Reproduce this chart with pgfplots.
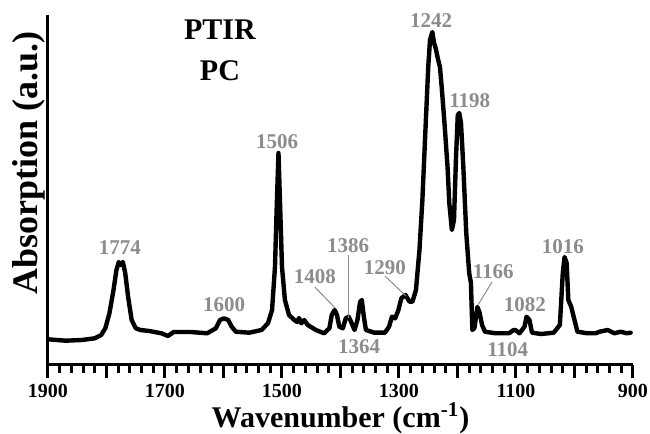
\documentclass[border=0pt]{standalone}
\usepackage{pgfplots}
\pgfplotsset{compat=1.18}
\usepackage{fontspec}
\setmainfont{Liberation Serif}
\definecolor{lblgray}{RGB}{140,140,140}
\tikzset{lbl/.style={font=\fontsize{10.5}{11}\selectfont\bfseries, text=lblgray, inner sep=0pt}}

\begin{document}
\begin{tikzpicture}
\useasboundingbox (0,0) rectangle (325pt,217pt);
\begin{axis}[
    at={(24pt,34.5pt)}, anchor=south west,
    scale only axis,
    width=292.5pt, height=175pt,
    x dir=reverse,
    xmin=900, xmax=1900,
    ymin=0, ymax=350,
    axis x line=bottom, axis y line=left,
    axis line style={-, line width=1.5pt},
    ytick=\empty,
    xtick={900,1100,...,1900},
    minor x tick num=9,
    extra x ticks={1000,1200,...,1800},
    extra x tick labels={},
    tick align=outside,
    major tick length=6.5pt,
    minor tick length=4pt,
    every tick/.style={line width=1.5pt, black},
    /pgf/number format/assume math mode=true,
    /pgf/number format/1000 sep={},
    xticklabel style={font=\fontsize{10}{10}\selectfont\bfseries, inner sep=1pt, yshift=-2pt},
    xlabel={Wavenumber (cm\textsuperscript{-1})},
    ylabel={Absorption (a.u.)},
    xlabel style={font=\fontsize{15}{15}\selectfont\bfseries,
        at={(axis description cs:0.5,-0.152)}, anchor=center},
    ylabel style={font=\fontsize{18}{19}\selectfont\bfseries,
        at={(axis description cs:-0.0325,0.576)}, anchor=center},
    clip=false,
]
\addplot[black, line width=2.2pt, line join=round, line cap=round] coordinates {
(1900,25.7) (1885,25) (1870,24.3) (1842,25) (1820,26.7) (1809,30) (1802,36.7)
(1795,51.7) (1788,75) (1783,95) (1779,103) (1776,100) (1772,103) (1768,92)
(1763,68) (1757,45) (1750,36.7) (1742,35) (1727,34) (1706,31.7) (1695,29)
(1685,33) (1656,33) (1628,31.7) (1613,36.7) (1606,45) (1599,46.7) (1592,45)
(1586,38.3) (1579,33.3) (1556,32.3) (1535,35) (1524,41.7) (1517,55) (1512,98)
(1509,158) (1506,212) (1503.5,165) (1500,98) (1495,65) (1488,50) (1479,45)
(1474,43) (1471,47) (1467,41.7) (1462,45) (1456,40) (1442,35) (1428,31.7)
(1419,36.7) (1415,50) (1410,55) (1406,50) (1402,38.3) (1396,36.7) (1391,46.7)
(1386,48.3) (1382,43.3) (1376,35) (1371,45) (1366.5,63) (1363.6,65) (1360,48)
(1356.5,35) (1342,32.3) (1324,32.3) (1317,38.3) (1312,48.3) (1306.5,46.7)
(1301,55) (1296,66.7) (1289,70) (1282,63.3) (1277,63.3) (1271,75) (1265,115)
(1260,165) (1255,232) (1250,298) (1247,325) (1243,333) (1240,322) (1237,316)
(1233,305) (1230,298) (1227,278) (1222,240) (1217,198) (1214,162) (1209.6,135)
(1206,145) (1202.5,208) (1199.5,250) (1197,252) (1194,242) (1190,198)
(1185,132) (1180,92) (1177,82) (1174.6,35) (1171,37) (1166,58) (1162.5,53)
(1158,40) (1153,33.3) (1135,31.7) (1112,31.7) (1104,35) (1101,35) (1094,31.7)
(1085.4,38.3) (1082,48.3) (1077,45) (1072.6,32.3) (1057,31) (1035.5,32.3)
(1025,40) (1020,92) (1017,108) (1013.4,102) (1010.5,65) (1005.5,58) (1000,45)
(995,33.3) (978,31.7) (964,31.7) (957,33.3) (943,35) (932,31.7) (921,33.3)
(911,31.7) (904,32.3)
};

% peak labels
\node[lbl] at (axis cs:1245,344) {1242};
\node[lbl] at (axis cs:1179,264) {1198};
\node[lbl] at (axis cs:1508.5,223) {1506};
\node[lbl] at (axis cs:1777,117) {1774};
\node[lbl] at (axis cs:1599,60) {1600};
\node[lbl] at (axis cs:1444,88) {1408};
\node[lbl] at (axis cs:1387,119) {1386};
\node[lbl] at (axis cs:1324,97) {1290};
\node[lbl] at (axis cs:1139,93) {1166};
\node[lbl] at (axis cs:1085,60) {1082};
\node[lbl] at (axis cs:1020,118) {1016};
\node[lbl] at (axis cs:1368,18) {1364};
\node[lbl] at (axis cs:1114,15) {1104};

% leader lines
\draw[lblgray, line width=0.5pt] (axis cs:1444,78) -- (axis cs:1409,57);
\draw[lblgray, line width=0.5pt] (axis cs:1387,110) -- (axis cs:1387,47);
\draw[lblgray, line width=0.5pt] (axis cs:1324,89) -- (axis cs:1288,69);
\draw[lblgray, line width=0.5pt] (axis cs:1141,83) -- (axis cs:1165,60);

% title text
\node[font=\fontsize{15}{16}\selectfont\bfseries] at (axis cs:1606,335) {PTIR};
\node[font=\fontsize{15}{16}\selectfont\bfseries] at (axis cs:1606,294) {PC};
\end{axis}
\end{tikzpicture}
\end{document}
